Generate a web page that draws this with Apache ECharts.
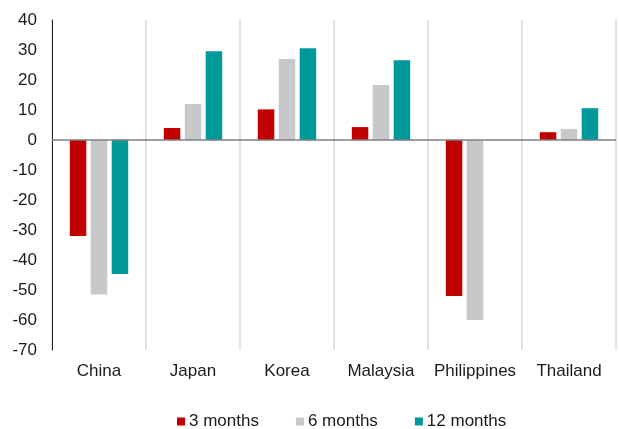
<!DOCTYPE html>
<html>
<head>
<meta charset="utf-8">
<script src="https://cdn.jsdelivr.net/npm/echarts@6/dist/echarts.min.js"></script>
<style>
  html, body { margin: 0; padding: 0; background: #ffffff; }
  #chart { width: 619px; height: 429px; }
</style>
</head>
<body>
<div id="chart"></div>
<script>
// Change by horizon, per country
const categories = ['China', 'Japan', 'Korea', 'Malaysia', 'Philippines', 'Thailand'];
const seriesNames = ['3 months', '6 months', '12 months'];
const threeMonths = [-32, 4, 10.2, 4.3, -52, 2.6];
const sixMonths = [-51.5, 12, 27, 18.3, -60, 3.7];
const twelveMonths = [-44.7, 29.6, 30.6, 26.6, null, 10.6];
const yTicks = { min: -70, max: 40, step: 10 };

const colors = ['#C00000', '#C8C8CA', '#009999'];
const font = 'Liberation Sans, Arial, sans-serif';

const chart = echarts.init(document.getElementById('chart'), null, { renderer: 'canvas' });

const values = [threeMonths, sixMonths, twelveMonths];

chart.setOption({
  animation: false,
  backgroundColor: '#ffffff',
  color: colors,
  textStyle: { fontFamily: font },
  grid: { left: 52, right: 3, top: 20, bottom: 79, containLabel: false },
  legend: {
    data: seriesNames,
    left: 172,
    top: 408,
    icon: 'rect',
    itemWidth: 8,
    itemHeight: 8,
    itemGap: 37,
    textStyle: { fontFamily: font, fontSize: 17, color: '#1a1a1a', padding: [0, 0, 0, -1] }
  },
  xAxis: {
    type: 'category',
    data: categories,
    boundaryGap: true,
    axisLine: { show: false },
    axisTick: { show: false },
    axisLabel: { fontFamily: font, fontSize: 17, color: '#1a1a1a', margin: 13, interval: 0 },
    splitLine: { show: true, interval: 0, lineStyle: { color: '#d9d9d9', width: 1.5 } }
  },
  yAxis: {
    type: 'value',
    min: yTicks.min,
    max: yTicks.max,
    interval: yTicks.step,
    axisLine: { show: true, lineStyle: { color: '#262626', width: 1 } },
    axisTick: { show: false },
    splitLine: { show: false },
    axisLabel: { fontFamily: font, fontSize: 17, color: '#1a1a1a', margin: 15 }
  },
  series: seriesNames.map((name, i) => ({
    name: name,
    type: 'bar',
    data: values[i],
    barWidth: 16.5,
    barGap: '27%',
    itemStyle: { color: colors[i] },
    markLine: i === 0 ? {
      silent: true,
      symbol: 'none',
      label: { show: false },
      lineStyle: { color: '#7f7f7f', width: 1.5, type: 'solid' },
      data: [{ yAxis: 0 }]
    } : undefined
  }))
});
</script>
</body>
</html>
